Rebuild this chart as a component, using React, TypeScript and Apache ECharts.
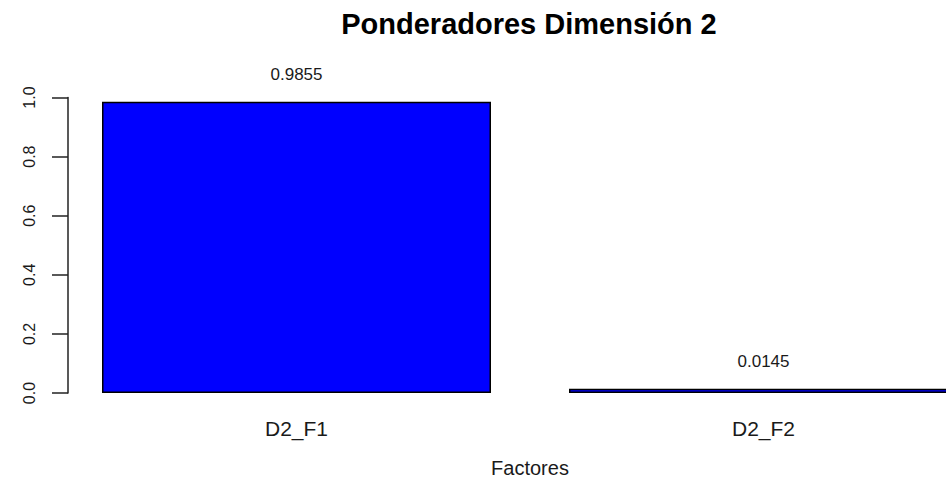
import React, { useEffect, useRef } from "react";
import * as echarts from "echarts";

const categories = ["D2_F1", "D2_F2"];
const weights = [0.9855, 0.0145];
const yTicks = [0, 0.2, 0.4, 0.6, 0.8, 1.0];
const titleText = "Ponderadores Dimensión 2";
const xName = "Factores";

const FONT = "'Liberation Sans', Arial, Helvetica, sans-serif";

export default function App() {
  const ref = useRef<HTMLDivElement>(null);
  useEffect(() => {
    if (!ref.current) return;
    const chart = echarts.init(ref.current, undefined, { renderer: "svg" });
    chart.setOption({
      animation: false,
      backgroundColor: "#ffffff",
      title: {
        text: titleText,
        left: 529,
        textAlign: "center",
        top: 9,
        padding: 0,
        textStyle: {
          fontFamily: FONT,
          fontWeight: "bold",
          fontSize: 29,
          color: "#000",
        },
      },
      grid: { left: 63, top: 97.5, bottom: 88, right: 0, containLabel: false },
      xAxis: {
        type: "category",
        data: categories,
        name: xName,
        nameLocation: "middle",
        nameGap: 65,
        nameTextStyle: { fontFamily: FONT, fontSize: 20, color: "#1a1a1a" },
        axisLine: { show: false },
        axisTick: { show: false },
        axisLabel: { fontFamily: FONT, fontSize: 21, color: "#1a1a1a", margin: 25 },
        splitLine: { show: false },
      },
      yAxis: {
        type: "value",
        min: yTicks[0],
        max: yTicks[yTicks.length - 1],
        interval: 0.2,
        offset: -5,
        axisLine: { show: true, lineStyle: { color: "#222", width: 1.5 } },
        axisTick: { show: true, length: 16, lineStyle: { color: "#222", width: 1.5 } },
        axisLabel: {
          rotate: 90,
          fontFamily: FONT,
          fontSize: 16,
          color: "#1a1a1a",
          margin: 31,
          formatter: (v: number) => v.toFixed(1),
        },
        splitLine: { show: false },
      },
      series: [
        {
          type: "bar",
          data: weights,
          barWidth: 389,
          itemStyle: { color: "#0000ff", borderColor: "#000", borderWidth: 1.5 },
          label: {
            show: true,
            position: "top",
            distance: 19,
            fontFamily: FONT,
            fontSize: 17,
            color: "#1a1a1a",
            formatter: (p: any) => p.value.toFixed(4),
          },
        },
      ],
    });
    return () => chart.dispose();
  }, []);
  return (
    <div style={{ position: "absolute", left: 0, top: 0, width: 946, height: 483, overflow: "hidden" }}>
      <div ref={ref} style={{ width: 997, height: 483 }} />
    </div>
  );
}
